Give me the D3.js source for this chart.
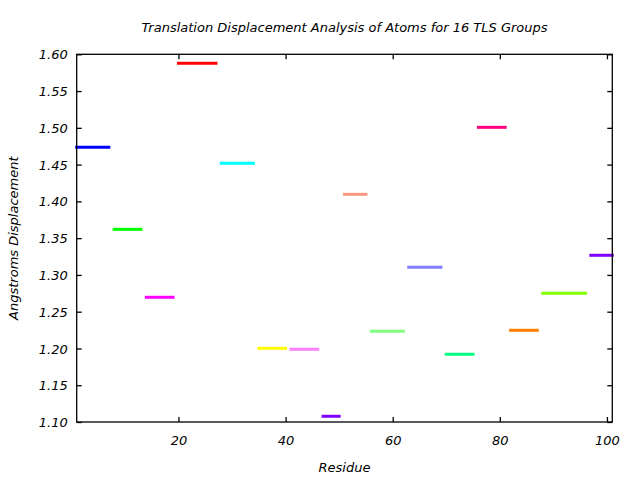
<!DOCTYPE html>
<html><head><meta charset="utf-8">
<script src="https://cdn.jsdelivr.net/npm/d3@7"></script>
<style>
body{margin:0;background:#fff;}
text{font-family:"DejaVu Sans",sans-serif;font-style:italic;fill:#000;}
</style></head>
<body><svg id="c" width="640" height="480"></svg>
<script>
const groupStart = [1, 8, 14, 20, 28, 35, 41, 47, 51, 56, 63, 70, 76, 82, 88, 97];
const groupEnd   = [7, 13, 19, 27, 34, 40, 46, 50, 55, 62, 69, 75, 81, 87, 96, 101];
const displacement = [1.4735, 1.362, 1.2696, 1.5878, 1.4518, 1.2002, 1.1989, 1.1078,
                      1.4096, 1.2233, 1.3104, 1.1921, 1.5007, 1.2247, 1.275, 1.3267];
const groupColors = ["#0000ff","#00ff00","#ff00ff","#ff0000","#00ffff","#ffff00","#ff80ff","#8000ff",
                     "#ff9980","#80ff80","#8080ff","#00ff80","#ff0080","#ff8000","#80ff00","#8000ff"];
const xTicks = [20, 40, 60, 80, 100];
const yTicks = [1.10,1.15,1.20,1.25,1.30,1.35,1.40,1.45,1.50,1.55,1.60];
const titleText = "Translation Displacement Analysis of Atoms for 16 TLS Groups";
const xLabel = "Residue";
const yLabel = "Angstroms Displacement";

const L = 76.7, R = 612.3, T = 54.3, B = 422;
const svg = d3.select("#c");
const x = d3.scaleLinear().domain([1, 101]).range([L, R]);
const y = d3.scaleLinear().domain([1.10, 1.60]).range([B, T]);

// segments
const data = groupStart.map((s,i)=>({s, e: groupEnd[i], v: displacement[i], c: groupColors[i]}));
svg.append("g").selectAll("line").data(data).join("line")
  .attr("x1", d=>x(d.s)).attr("x2", d=>x(d.e))
  .attr("y1", d=>y(d.v)).attr("y2", d=>y(d.v))
  .attr("stroke", d=>d.c).attr("stroke-width", 3).attr("stroke-linecap","square");

// axes with inward ticks
const tk = 5;
const fmt = d3.format(".2f");
const gB = svg.append("g").attr("transform",`translate(0,${B})`)
  .call(d3.axisBottom(x).tickValues(xTicks).tickSizeInner(-tk).tickSizeOuter(0).tickPadding(14));
const gT = svg.append("g").attr("transform",`translate(0,${T})`)
  .call(d3.axisTop(x).tickValues(xTicks).tickSizeInner(-tk).tickSizeOuter(0).tickFormat(""));
const gL = svg.append("g").attr("transform",`translate(${L},0)`)
  .call(d3.axisLeft(y).tickValues(yTicks).tickSizeInner(-tk).tickSizeOuter(0).tickPadding(9).tickFormat(fmt));
const gR = svg.append("g").attr("transform",`translate(${R},0)`)
  .call(d3.axisRight(y).tickValues(yTicks).tickSizeInner(-tk).tickSizeOuter(0).tickFormat(""));
[gB,gT,gL,gR].forEach(g=>{
  g.selectAll(".domain").remove();
  g.selectAll(".tick line").attr("stroke","#000").attr("stroke-width",1.3);
  g.selectAll("text").attr("font-size",13).attr("font-family","DejaVu Sans").attr("font-style","italic").attr("fill","#000");
});
gL.selectAll(".tick text").attr("dy","0.35em");

// frame
svg.append("rect").attr("x",L).attr("y",T).attr("width",R-L).attr("height",B-T)
  .attr("fill","none").attr("stroke","#000").attr("stroke-width",1.3);

svg.append("text").attr("x",(L+R)/2).attr("y",32).attr("text-anchor","middle")
  .attr("font-size",13).text(titleText);
svg.append("text").attr("x",(L+R)/2).attr("y",472).attr("text-anchor","middle")
  .attr("font-size",13).text(xLabel);
svg.append("text").attr("transform",`translate(18,${(T+B)/2}) rotate(-90)`).attr("text-anchor","middle")
  .attr("font-size",13).text(yLabel);
</script></body></html>
